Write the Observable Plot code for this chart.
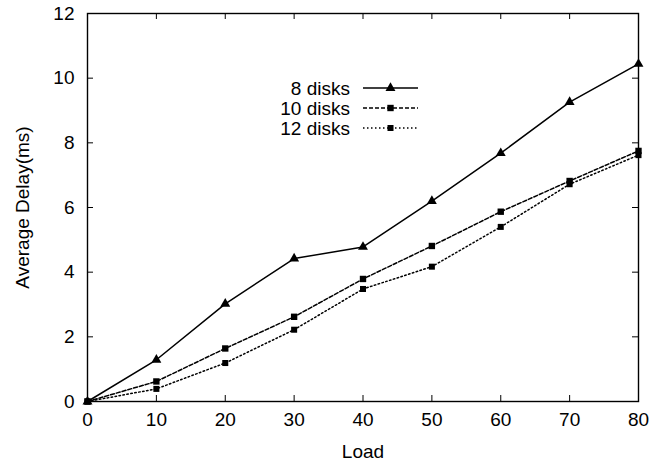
<!DOCTYPE html>
<html>
<head>
<meta charset="utf-8">
<script src="https://cdn.jsdelivr.net/npm/d3@7"></script>
<script src="https://cdn.jsdelivr.net/npm/@observablehq/plot@0.6"></script>
<style>
  html, body { margin: 0; padding: 0; background: #fff; }
  #chart { width: 653px; height: 466px; }
</style>
</head>
<body>
<div id="chart"></div>
<script>
const loads = [0, 10, 20, 30, 40, 50, 60, 70, 80];
const disks8  = [0, 1.29, 3.02, 4.42, 4.78, 6.20, 7.68, 9.26, 10.44];
const disks10 = [0, 0.62, 1.64, 2.62, 3.79, 4.81, 5.87, 6.82, 7.75];
const disks12 = [0, 0.39, 1.19, 2.22, 3.48, 4.17, 5.40, 6.72, 7.62];
const seriesNames = ["8 disks", "10 disks", "12 disks"];
const xTicks = [0, 10, 20, 30, 40, 50, 60, 70, 80];
const yTicks = [0, 2, 4, 6, 8, 10, 12];

const styles = {
  "8 disks":  {dash: null,  symbol: "triangle", r: 3.7},
  "10 disks": {dash: "4,2", symbol: "square",   r: 3.6},
  "12 disks": {dash: "1.5,2.5", symbol: "square", r: 3.4}
};

const seriesValues = [disks8, disks10, disks12];
const data = [];
seriesNames.forEach((name, i) => {
  loads.forEach((x, j) => data.push({series: name, load: x, delay: seriesValues[i][j]}));
});

const W = 653, H = 466;
const mL = 87, mR = 15, mT = 13, mB = 65;
const innerW = W - mL - mR, innerH = H - mT - mB;
const tick = 6;
const FS = 19;
const FONT = "'Liberation Sans', Arial, Helvetica, sans-serif";

const marks = [];
for (const name of seriesNames) {
  const s = styles[name];
  const d = data.filter(r => r.series === name);
  marks.push(Plot.line(d, {x: "load", y: "delay", stroke: "#000", strokeWidth: 1.5, strokeDasharray: s.dash}));
  marks.push(Plot.dot(d, {x: "load", y: "delay", symbol: () => s.symbol, fill: "#000", stroke: "none", r: s.r}));
}

const chart = Plot.plot({
  width: W, height: H,
  marginLeft: mL, marginRight: mR, marginTop: mT, marginBottom: mB,
  style: {fontFamily: FONT, fontSize: FS + "px", color: "#000", background: "#fff"},
  x: {domain: [0, 80]},
  y: {domain: [0, 12]},
  symbol: {type: "identity"},
  marks: [
    // inward ticks on all four sides
    Plot.tickX(xTicks, {x: d => d, stroke: "#000", insetTop: innerH - tick}),
    Plot.tickX(xTicks, {x: d => d, stroke: "#000", insetBottom: innerH - tick}),
    Plot.tickY(yTicks, {y: d => d, stroke: "#000", insetRight: innerW - tick}),
    Plot.tickY(yTicks, {y: d => d, stroke: "#000", insetLeft: innerW - tick}),
    Plot.axisX(xTicks, {tickSize: 0, tickPadding: 11, label: null, fontSize: FS}),
    Plot.axisY(yTicks, {tickSize: 0, tickPadding: 13, label: null, fontSize: FS}),
    Plot.text(["Load"], {text: d => d, frameAnchor: "bottom", dy: 56, fontSize: FS}),
    Plot.text(["Average Delay(ms)"], {text: d => d, frameAnchor: "left", textAnchor: "middle", dx: -65, rotate: -90, fontSize: FS}),
    ...marks,
    Plot.frame({stroke: "#000", strokeWidth: 1.4})
  ]
});

document.getElementById("chart").appendChild(chart);

// Legend inside plot area (top center)
const svg = d3.select(chart);
const lg = svg.append("g").attr("font-family", FONT).attr("font-size", FS);
const textRight = 350, lineX1 = 363, lineX2 = 418, row0 = 88, rowStep = 20;
seriesNames.forEach((name, i) => {
  const s = styles[name];
  const y = row0 + i * rowStep;
  lg.append("text").attr("x", textRight).attr("y", y).attr("dy", "0.35em").attr("text-anchor", "end").attr("fill", "#000").text(name);
  lg.append("line").attr("x1", lineX1).attr("x2", lineX2).attr("y1", y).attr("y2", y)
    .attr("stroke", "#000").attr("stroke-width", 1.5).attr("stroke-dasharray", s.dash);
  const sym = s.symbol === "triangle" ? d3.symbolTriangle : d3.symbolSquare;
  lg.append("path").attr("transform", `translate(${(lineX1 + lineX2) / 2},${y})`)
    .attr("d", d3.symbol(sym, Math.PI * s.r * s.r)()).attr("fill", "#000");
});
</script>
</body>
</html>
